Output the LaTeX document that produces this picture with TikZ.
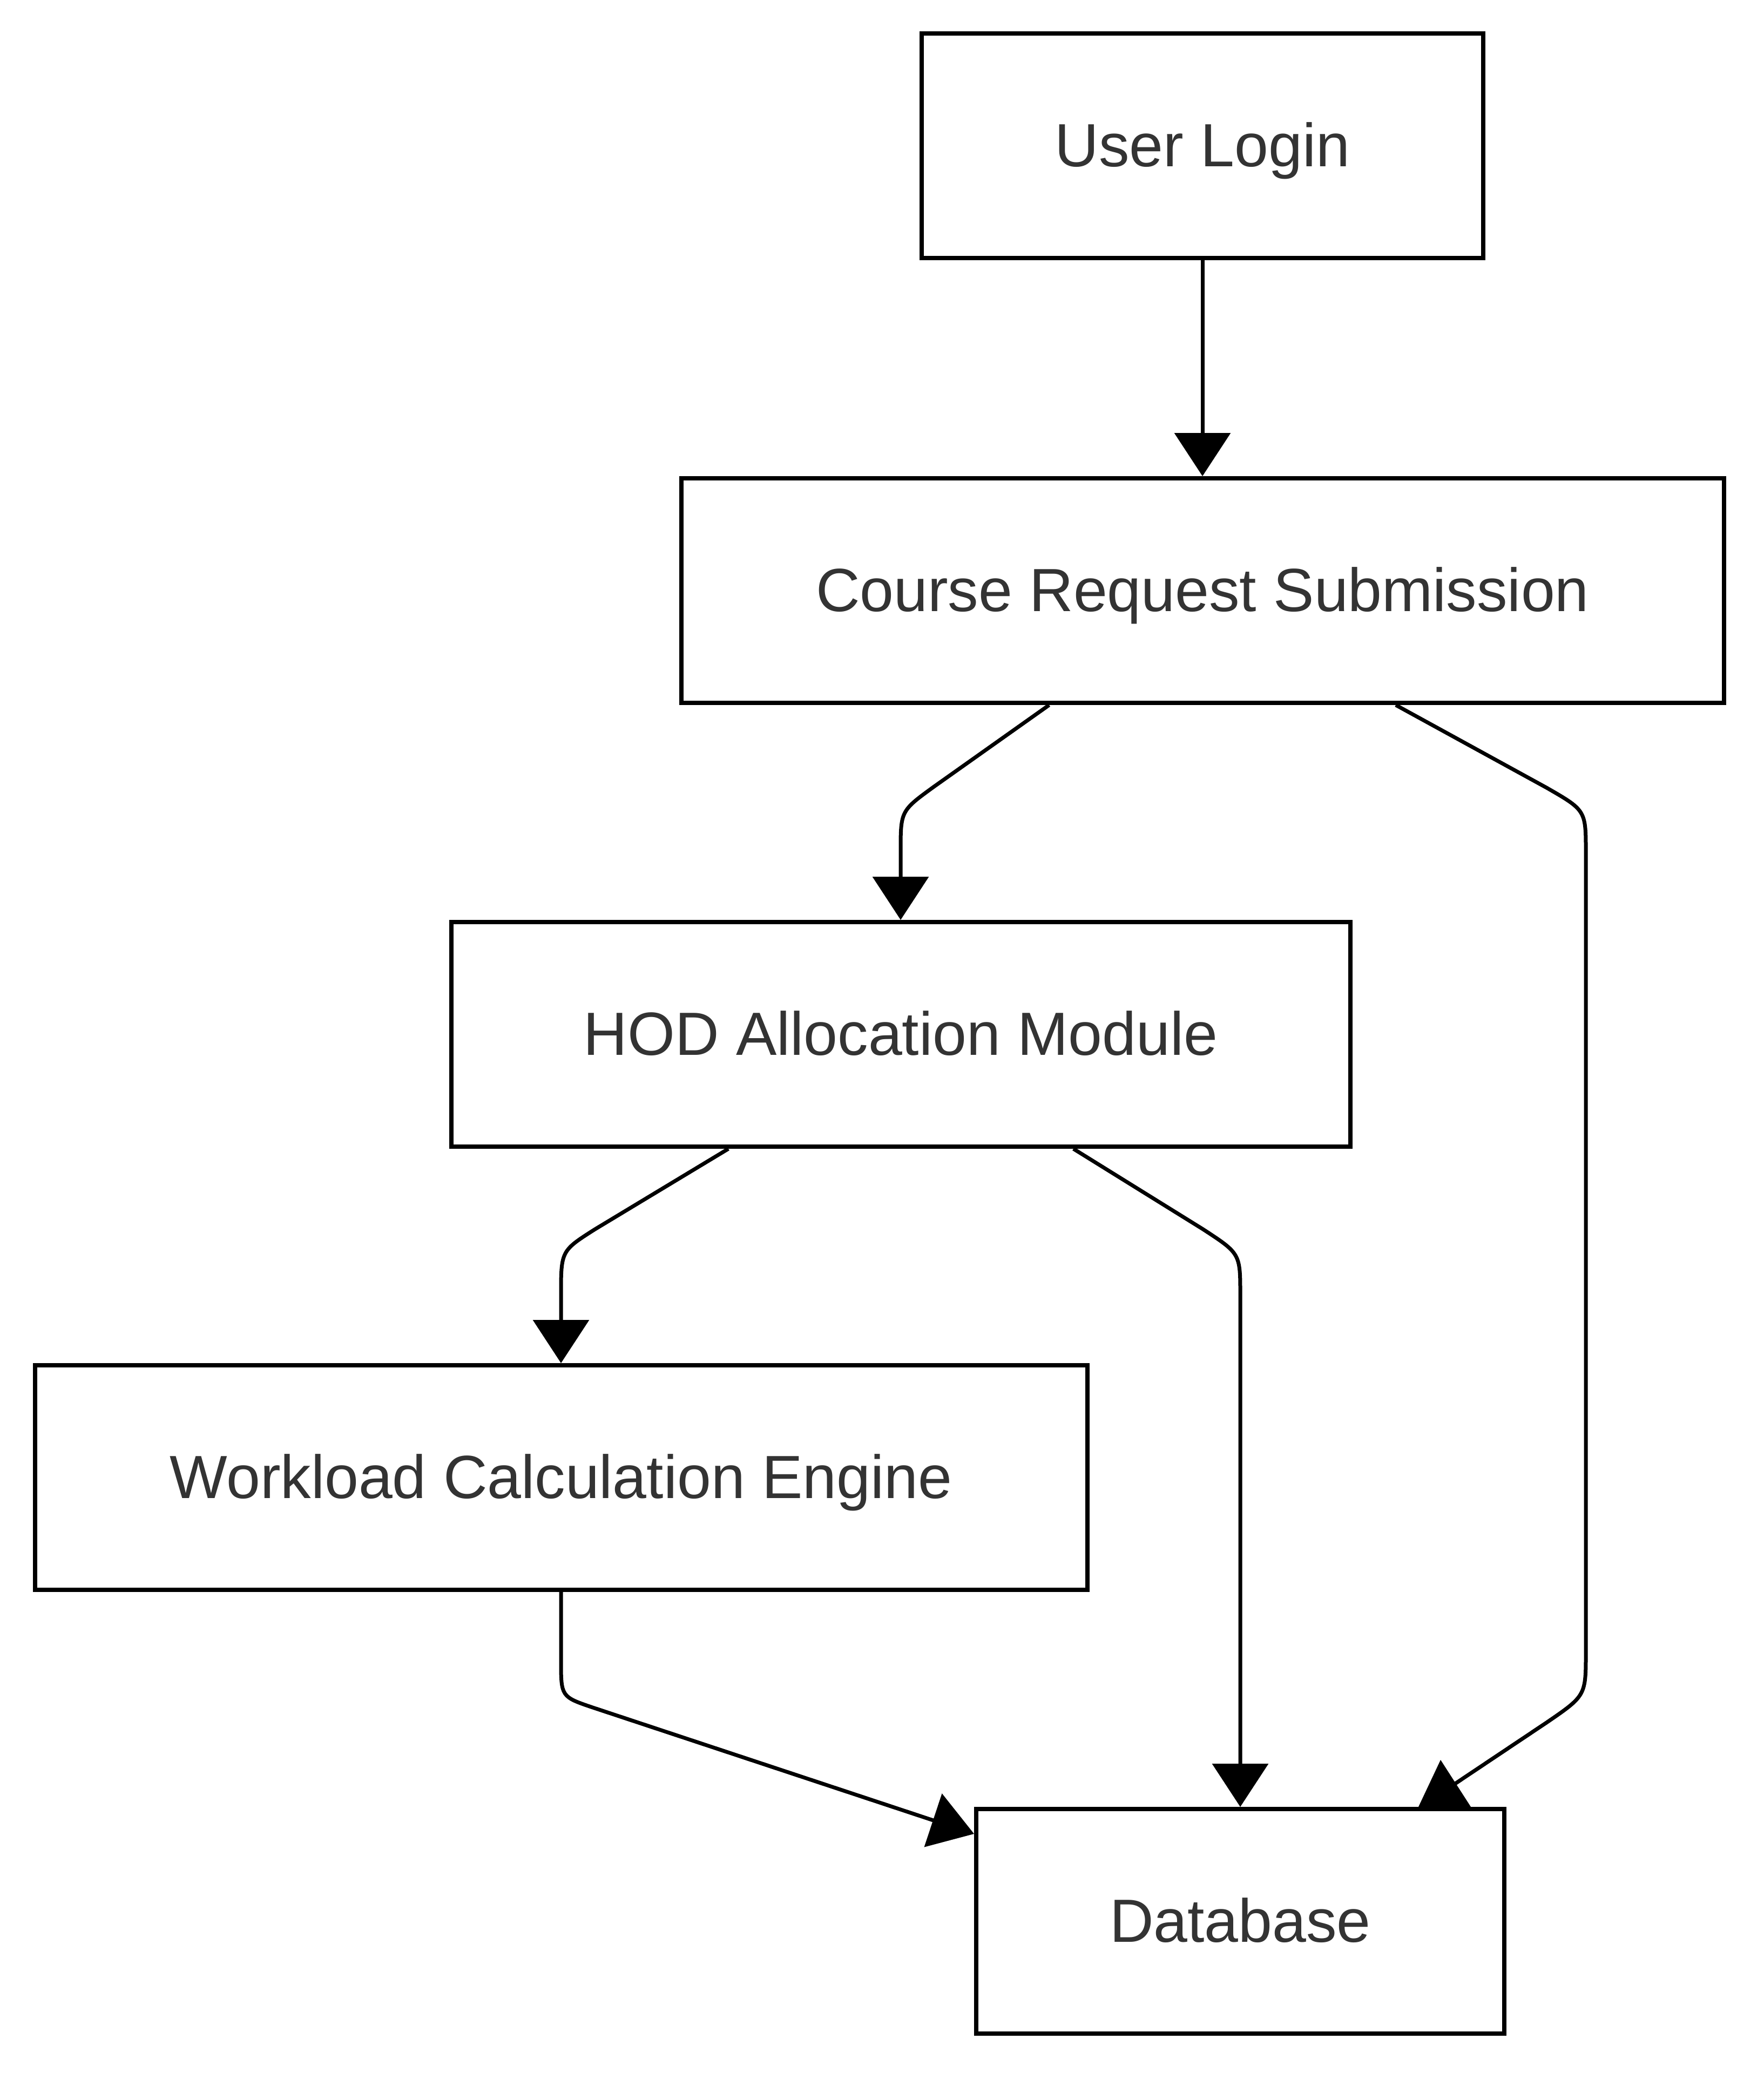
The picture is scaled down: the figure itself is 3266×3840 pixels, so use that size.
\documentclass[tikz,border=0pt]{standalone}
\usepackage{fontspec}
\setmainfont{Liberation Sans}
\usetikzlibrary{arrows.meta,calc}
\definecolor{txt}{HTML}{333333}
\begin{document}
\begin{tikzpicture}[x=0.25pt,y=-0.25pt,
  box/.style={draw=black,line width=2pt,fill=white,rectangle,inner sep=0pt,outer sep=1pt,
    minimum height=104pt,text=txt,font=\fontsize{28.25pt}{34pt}\selectfont,
    text height=24pt,text depth=4.8pt},
  edge/.style={draw=black,line width=1.75pt,-{Triangle[length=20pt,width=25.75pt]}},
  plain/.style={draw=black,line width=1.75pt}]
\useasboundingbox (0,0) rectangle (3266,3840);
\node[box,minimum width=260pt] (ul) at (2227,270) {User Login};
\node[box,minimum width=482.75pt] (crs) at (2227,1094) {Course Request Submission};
\node[box,minimum width=416.25pt] (hod) at (1668,1916) {HOD Allocation Module};
\node[box,minimum width=487.25pt] (wce) at (1039,2737) {Workload Calculation Engine};
\node[box,minimum width=244.5pt] (db) at (2297,3559) {Database};

\draw[edge] (ul) -- (crs);
\draw[edge] ($(crs.south)+(-284,0)$) -- (1730,1457) .. controls (1668,1502) .. (1668,1577) -- (hod.north);
\coordinate (dbin) at ($(db.north)+(395,-41)$);
\draw[plain] ($(crs.south)+(358,0)$) -- (2864,1459) .. controls (2937,1501) .. (2937,1579) -- (2937,3060) .. controls (2937,3141) .. (2864,3191) -- (dbin);
\fill[black] ($(db.north)+(371,-87)$) -- ($(db.north)+(330,0)$) -- ($(db.north)+(427,0)$) -- cycle;
\draw[edge] ($(hod.south)+(-319,0)$) -- (1102,2277) .. controls (1039,2317) .. (1039,2399) -- (wce.north);
\draw[edge] ($(hod.south)+(320,0)$) -- (2228,2277) .. controls (2297,2322) .. (2297,2399) -- (db.north);
\draw[edge] (wce.south) -- (1039,3075) .. controls (1039,3143) .. (1098,3163) -- ($(db.north west)+(0,50)$);
\end{tikzpicture}
\end{document}
